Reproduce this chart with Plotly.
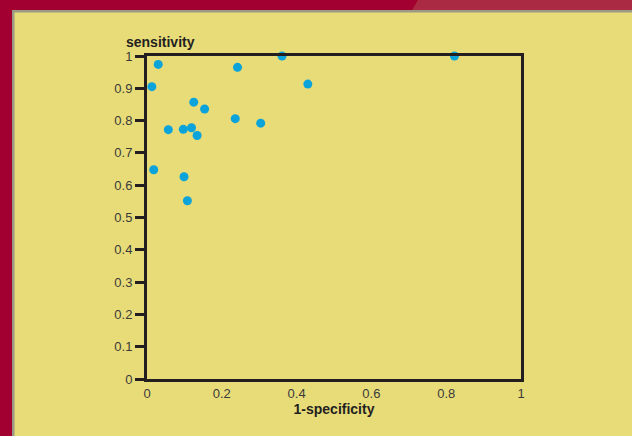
import plotly.graph_objects as go

# Data (1-specificity, sensitivity)
fpr = [0.030, 0.013, 0.361, 0.242, 0.430, 0.822, 0.125, 0.154, 0.236, 0.304,
       0.057, 0.097, 0.119, 0.134, 0.018, 0.099, 0.108]
tpr = [0.974, 0.905, 1.000, 0.965, 0.913, 1.000, 0.857, 0.836, 0.806, 0.792,
       0.772, 0.773, 0.778, 0.754, 0.648, 0.626, 0.552]

y_ticks = [0, 0.1, 0.2, 0.3, 0.4, 0.5, 0.6, 0.7, 0.8, 0.9, 1]
y_labels = ["0", "0.1", "0.2", "0.3", "0.4", "0.5", "0.6", "0.7", "0.8", "0.9", "1"]
x_ticks = [0, 0.2, 0.4, 0.6, 0.8, 1]
x_labels = ["0", "0.2", "0.4", "0.6", "0.8", "1"]

W, H = 632, 436
L, R, T, B = 147, 521, 56, 379
DARK = "#231f20"
YELLOW = "#e8dc79"
MAROON = "#a10030"
LIGHT = "#a92a42"
GRAY = "#9a9a84"


def px(x):
    return (x - L) / (R - L)


def py(y):
    return (B - y) / (B - T)


fig = go.Figure()
fig.add_trace(go.Scatter(
    x=fpr, y=tpr, mode="markers",
    marker=dict(color="#0aa3da", size=9, line=dict(width=0)),
    cliponaxis=False, hoverinfo="x+y",
))

shapes = [
    # maroon left and top frame
    dict(type="rect", xref="paper", yref="paper", x0=px(0), x1=px(12), y0=py(H), y1=py(0),
         fillcolor=MAROON, line=dict(width=0), layer="below"),
    dict(type="rect", xref="paper", yref="paper", x0=px(0), x1=px(W), y0=py(10), y1=py(0),
         fillcolor=MAROON, line=dict(width=0), layer="below"),
    # lighter top-right piece
    dict(type="path", xref="paper", yref="paper",
         path="M {} {} L {} {} L {} {} L {} {} Z".format(px(418), py(0), px(W), py(0),
                                                        px(W), py(10), px(412), py(10)),
         fillcolor=LIGHT, line=dict(width=0), layer="below"),
    # thin gray edges
    dict(type="rect", xref="paper", yref="paper", x0=px(12), x1=px(14.5), y0=py(H), y1=py(10),
         fillcolor=GRAY, line=dict(width=0), layer="below"),
    dict(type="rect", xref="paper", yref="paper", x0=px(12), x1=px(W), y0=py(12.5), y1=py(10),
         fillcolor=GRAY, line=dict(width=0), layer="below"),
]

fig.update_layout(
    width=W, height=H,
    margin=dict(l=L, r=W - R, t=T, b=H - B),
    paper_bgcolor=YELLOW, plot_bgcolor=YELLOW,
    showlegend=False,
    font=dict(family="Liberation Sans, Arial, sans-serif", color=DARK, size=13),
    shapes=shapes,
    xaxis=dict(
        range=[0, 1], tickvals=x_ticks, ticktext=x_labels,
        showline=True, linecolor=DARK, linewidth=3, mirror=True,
        showgrid=False, zeroline=False, ticks="",
        tickfont=dict(size=13, color="#3a3a3a"),
        title=dict(text="<b>1-specificity</b>", font=dict(size=14, color=DARK), standoff=5),
    ),
    yaxis=dict(
        range=[0, 1], tickvals=y_ticks, ticktext=y_labels,
        showline=True, linecolor=DARK, linewidth=3, mirror=True,
        showgrid=False, zeroline=False,
        ticks="outside", ticklen=9, tickwidth=3, tickcolor=DARK,
        tickfont=dict(size=13, color="#3a3a3a"),
    ),
    annotations=[dict(
        text="<b>sensitivity</b>", xref="paper", yref="paper", x=0, y=1,
        xanchor="center", yanchor="bottom", xshift=13, yshift=4, showarrow=False,
        font=dict(size=14, color=DARK),
    )],
)

fig.write_html(
    "out.html",
    config={"displayModeBar": False},
    post_script="document.body.style.margin='0';document.body.style.overflow='hidden';",
)
